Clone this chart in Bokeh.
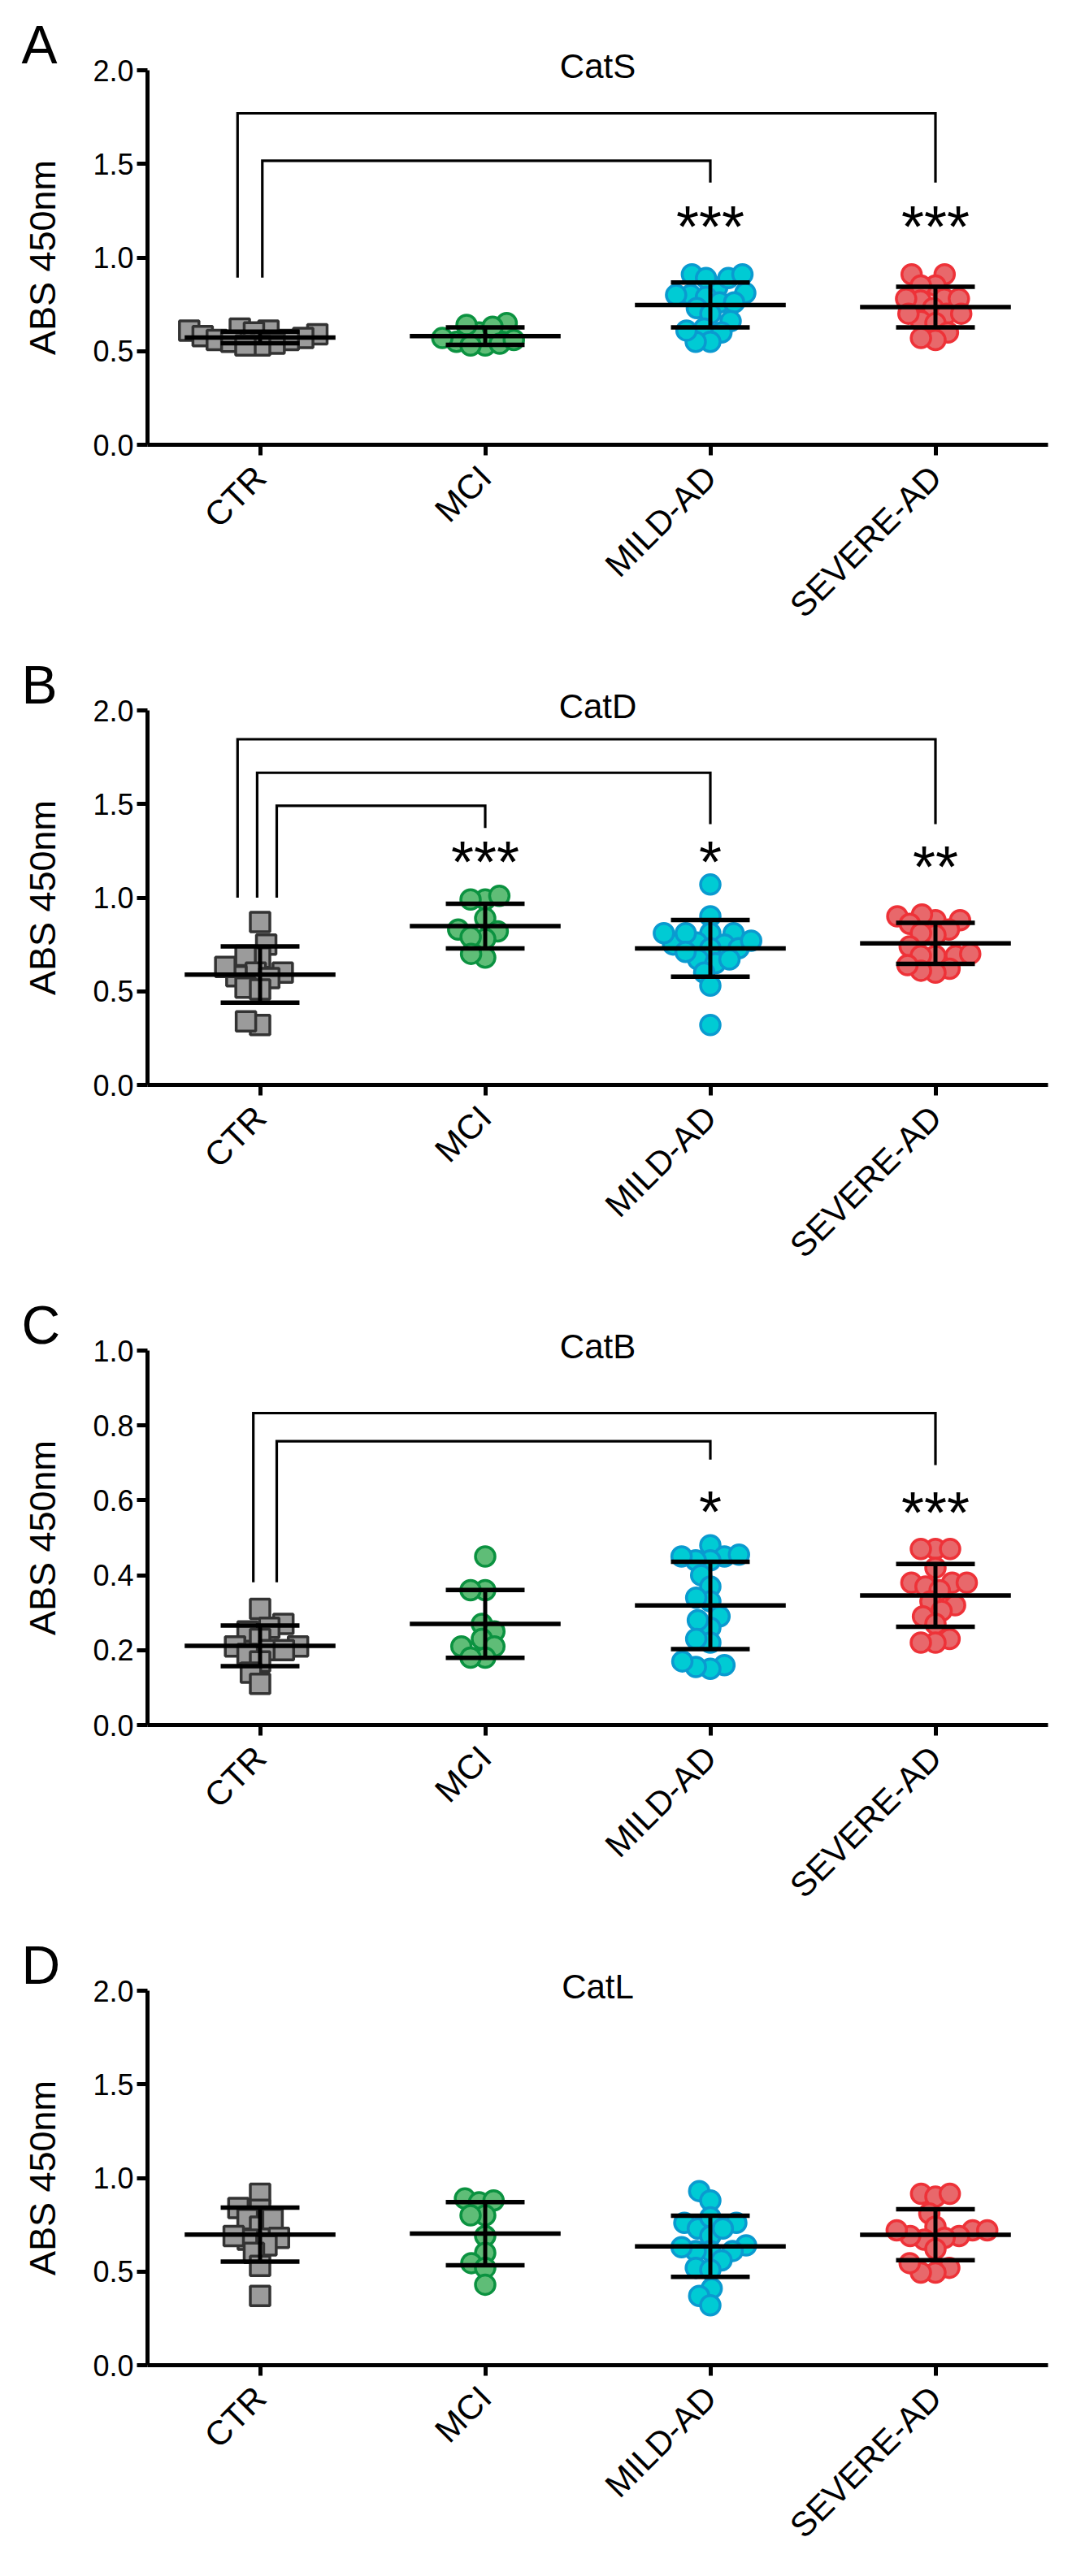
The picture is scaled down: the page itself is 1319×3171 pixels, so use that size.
import math
from bokeh.plotting import figure
from bokeh.models import FactorRange, Range1d, FixedTicker, PrintfTickFormatter, Title
from bokeh.layouts import column, row
from bokeh.embed import file_html
from bokeh.resources import INLINE
from bokeh.core.properties import value

FONT = "Liberation Sans"

# ---------------- data ----------------
categories = ["CTR", "MCI", "MILD-AD", "SEVERE-AD"]
panel_letters = ["A", "B", "C", "D"]
panel_titles = ["CatS", "CatD", "CatB", "CatL"]
y_label = "ABS 450nm"
y_max = [2.0, 2.0, 1.0, 2.0]
y_ticks = [
    [0.0, 0.5, 1.0, 1.5, 2.0],
    [0.0, 0.5, 1.0, 1.5, 2.0],
    [0.0, 0.2, 0.4, 0.6, 0.8, 1.0],
    [0.0, 0.5, 1.0, 1.5, 2.0],
]

# CatS
cats_ctr = [0.62, 0.61, 0.61, 0.60, 0.59, 0.58, 0.57, 0.56, 0.56, 0.55, 0.54, 0.53, 0.53]
cats_mci = [0.60, 0.64, 0.65, 0.63, 0.55, 0.53, 0.53, 0.54, 0.56, 0.57]
cats_mild = [0.84, 0.91, 0.89, 0.89, 0.91, 0.80, 0.79, 0.80, 0.81, 0.73, 0.76, 0.76,
             0.70, 0.66, 0.62, 0.60, 0.55, 0.55, 0.61]
cats_severe = [0.91, 0.91, 0.85, 0.85, 0.78, 0.77, 0.78, 0.78, 0.73, 0.66, 0.70, 0.70,
               0.70, 0.65, 0.60, 0.56, 0.57]
# CatD
catd_ctr = [0.87, 0.75, 0.68, 0.69, 0.60, 0.58, 0.63, 0.60, 0.57, 0.52, 0.51, 0.32, 0.34]
catd_mci = [0.99, 1.01, 0.99, 0.89, 0.83, 0.82, 0.78, 0.79, 0.68, 0.70]
catd_mild = [1.07, 0.90, 0.81, 0.81, 0.76, 0.75, 0.73, 0.73, 0.75, 0.77, 0.81, 0.81,
             0.67, 0.65, 0.67, 0.60, 0.53, 0.32, 0.71]
catd_severe = [0.88, 0.91, 0.90, 0.88, 0.86, 0.83, 0.80, 0.81, 0.74, 0.69, 0.69, 0.69,
               0.70, 0.62, 0.60, 0.61, 0.64]
# CatB
catb_ctr = [0.31, 0.27, 0.26, 0.25, 0.23, 0.21, 0.20, 0.21, 0.20, 0.19, 0.17, 0.14, 0.11]
catb_mci = [0.45, 0.36, 0.36, 0.27, 0.25, 0.23, 0.21, 0.21, 0.18, 0.18]
catb_mild = [0.48, 0.45, 0.44, 0.44, 0.455, 0.45, 0.40, 0.37, 0.33, 0.34, 0.29, 0.26,
             0.28, 0.22, 0.23, 0.16, 0.15, 0.155, 0.17]
catb_severe = [0.47, 0.47, 0.47, 0.42, 0.38, 0.38, 0.38, 0.37, 0.36, 0.33, 0.32, 0.305,
               0.29, 0.27, 0.23, 0.22, 0.22]
# CatL
catl_ctr = [0.915, 0.84, 0.83, 0.78, 0.74, 0.78, 0.67, 0.68, 0.69, 0.64, 0.60, 0.53, 0.37]
catl_mci = [0.89, 0.87, 0.88, 0.80, 0.80, 0.69, 0.60, 0.545, 0.52, 0.43]
catl_mild = [0.93, 0.88, 0.76, 0.73, 0.76, 0.79, 0.69, 0.73, 0.61, 0.61, 0.63, 0.64,
             0.61, 0.56, 0.52, 0.51, 0.41, 0.37, 0.32]
catl_severe = [0.915, 0.90, 0.915, 0.81, 0.74, 0.72, 0.69, 0.68, 0.67, 0.69, 0.72, 0.72,
               0.62, 0.52, 0.495, 0.495, 0.545]

panel_data = [
    [cats_ctr, cats_mci, cats_mild, cats_severe],
    [catd_ctr, catd_mci, catd_mild, catd_severe],
    [catb_ctr, catb_mci, catb_mild, catb_severe],
    [catl_ctr, catl_mci, catl_mild, catl_severe],
]

# significance marks (text per category) and their vertical centre (data units)
sig_text = [
    ["", "", "***", "***"],
    ["", "***", "*", "**"],
    ["", "", "*", "***"],
    ["", "", "", ""],
]
sig_y = [
    [0, 0, 1.24, 1.24],
    [0, 1.27, 1.27, 1.24],
    [0, 0, 0.608, 0.606],
    [0, 0, 0, 0],
]
# brackets: (left-leg offset from CTR, right category, top, left bottom, right bottom)
brackets = [
    [(-0.10, 3, 1.77, 0.893, 1.40), (0.01, 2, 1.517, 0.893, 1.40)],
    [(-0.10, 3, 1.846, 1.0, 1.393), (-0.013, 2, 1.667, 1.0, 1.393), (0.074, 1, 1.491, 1.0, 1.372)],
    [(-0.03, 3, 0.833, 0.381, 0.694), (0.074, 2, 0.758, 0.381, 0.709)],
    [],
]

# ---------------- style ----------------
fill_colors = ["#9b9b9b", "#5fbd77", "#00cbd4", "#e8686b"]
line_colors = ["#333333", "#0b9240", "#0a9ad0", "#ee3238"]
markers = ["square", "circle", "circle", "circle"]
MARKER_SIZE = 24
MARKER_LW = 3.5
SWARM_D = 18.0
STAR_FS = 72
STAR_RAISE = 18  # px from star centre down to baseline

LEFT_W = 91
MAIN_W = 1212
FIG_H = 788
BORDER_L = 90
BORDER_R = 14
AXIS_H = 467          # pixels from 0 to y_max (= frame height)
BORDER_B = 235
BORDER_T = FIG_H - BORDER_B - AXIS_H   # 86, shared by both figures of a row
FRAME_W = MAIN_W - BORDER_L - BORDER_R
CAT_PX = FRAME_W / len(categories)
LETTER_X = 26
YLAB_FRAME_LEFT = 77


def swarm(vals, ppu, d):
    placed = []
    offs = [0.0] * len(vals)
    order = sorted(range(len(vals)), key=lambda i: vals[i])
    for i in order:
        y = vals[i] * ppu
        cands = [0.0]
        for px, py in placed:
            dy = abs(py - y)
            if dy < d:
                dx = math.sqrt(d * d - dy * dy)
                cands += [px - dx, px + dx]
        cands.sort(key=lambda c: (round(abs(c), 6), c))
        chosen = cands[-1]
        for c in cands:
            if all((c - px) ** 2 + (y - py) ** 2 >= d * d - 1e-6 for px, py in placed):
                chosen = c
                break
        placed.append((chosen, y))
        offs[i] = chosen / CAT_PX
    return offs


def mean_sd(vals):
    m = sum(vals) / len(vals)
    sd = math.sqrt(sum((v - m) ** 2 for v in vals) / (len(vals) - 1))
    return m, sd


def set_standoff(t, v):
    try:
        t.standoff = v
    except AttributeError:
        pass


rows = []
for k in range(4):
    ymax = y_max[k]
    ppu = AXIS_H / ymax

    # left strip: y title (axis label centred on the y-axis span) and panel letter (title)
    yl = figure(width=LEFT_W, height=FIG_H, x_range=Range1d(0, 1),
                y_range=Range1d(0, 1), min_border_left=YLAB_FRAME_LEFT, min_border_right=0,
                min_border_top=BORDER_T, min_border_bottom=BORDER_B, x_axis_type=None,
                output_backend="svg", toolbar_location=None)
    yl.outline_line_color = None
    yl.ygrid.visible = False
    yl.yaxis.ticker = FixedTicker(ticks=[])
    yl.yaxis.axis_line_color = None
    yl.yaxis.major_tick_out = 0
    yl.yaxis.major_tick_in = 0
    yl.yaxis.minor_tick_out = 0
    yl.yaxis.minor_tick_in = 0
    yl.yaxis.major_label_standoff = 0
    yl.yaxis.axis_label = y_label
    yl.yaxis.axis_label_standoff = 0
    yl.yaxis.axis_label_text_font = FONT
    yl.yaxis.axis_label_text_font_size = "45px"
    yl.yaxis.axis_label_text_font_style = "normal"
    yl.yaxis.axis_label_text_color = "black"
    letter = Title(text=panel_letters[k], align="left", offset=LETTER_X - YLAB_FRAME_LEFT,
                   text_font=FONT, text_font_size="66px", text_font_style="normal",
                   text_color="black")
    set_standoff(letter, -10)
    yl.add_layout(letter, "above")

    # main plot: frame == y-axis span
    p = figure(x_range=FactorRange(factors=categories, range_padding=0),
               y_range=Range1d(0, ymax),
               width=MAIN_W, height=FIG_H,
               min_border_left=BORDER_L, min_border_right=BORDER_R,
               min_border_top=BORDER_T, min_border_bottom=BORDER_B,
               output_backend="svg", toolbar_location=None)
    p.outline_line_color = None
    p.xgrid.visible = False
    p.ygrid.visible = False
    ttl = Title(text=panel_titles[k], align="center", text_font=FONT,
                text_font_size="42px", text_font_style="normal", text_color="black")
    set_standoff(ttl, -36)
    p.add_layout(ttl, "above")

    for ax in (p.xaxis, p.yaxis):
        ax.axis_line_width = 5
        ax.axis_line_color = "black"
        ax.major_tick_line_width = 5
        ax.major_tick_line_color = "black"
        ax.major_tick_out = 13
        ax.major_tick_in = 0
        ax.minor_tick_line_color = None
        ax.major_label_text_font = FONT
        ax.major_label_text_color = "black"
    p.yaxis.ticker = FixedTicker(ticks=y_ticks[k])
    p.yaxis.formatter = PrintfTickFormatter(format="%.1f")
    p.yaxis.major_label_text_font_size = "36px"
    p.yaxis.major_label_standoff = 4
    p.xaxis.major_label_text_font_size = "42px"
    p.xaxis.major_label_orientation = math.pi / 4
    p.xaxis.major_label_standoff = 20

    # points
    for c, vals in enumerate(panel_data[k]):
        offs = swarm(vals, ppu, SWARM_D)
        xs = [c + 0.5 + o for o in offs]
        p.scatter(xs, vals, marker=markers[c], size=MARKER_SIZE,
                  fill_color=fill_colors[c], line_color=line_colors[c],
                  line_width=MARKER_LW)

    # mean +- SD
    mx0, mx1, my, cx0, cx1, cy, vx, vy0, vy1 = [], [], [], [], [], [], [], [], []
    for c, vals in enumerate(panel_data[k]):
        m, sd = mean_sd(vals)
        xc = c + 0.5
        mx0.append(xc - 0.335); mx1.append(xc + 0.335); my.append(m)
        for yy in (m - sd, m + sd):
            cx0.append(xc - 0.175); cx1.append(xc + 0.175); cy.append(yy)
        vx.append(xc); vy0.append(m - sd); vy1.append(m + sd)
    p.segment(vx, vy0, vx, vy1, line_color="black", line_width=5)
    p.segment(cx0, cy, cx1, cy, line_color="black", line_width=5.5)
    p.segment(mx0, my, mx1, my, line_color="black", line_width=5.5)

    # brackets
    bxs, bys = [], []
    for off, rc, ytop, ylb, yrb in brackets[k]:
        xl = 0.5 + off
        xr = rc + 0.5
        bxs.append([xl, xl, xr, xr])
        bys.append([ylb, ytop, ytop, yrb])
    if bxs:
        p.multi_line(bxs, bys, line_color="black", line_width=3.2, line_join="miter")

    # significance stars
    sx, sy, st = [], [], []
    for c in range(4):
        if sig_text[k][c]:
            sx.append(c + 0.5)
            sy.append(sig_y[k][c] - STAR_RAISE / ppu)
            st.append(sig_text[k][c])
    if st:
        p.text(sx, sy, text=st, text_font=value(FONT), text_font_size=value(f"{STAR_FS}px"),
               text_align="center", text_baseline="alphabetic", text_color="black")

    rows.append(row(yl, p))

layout = column(*rows)
open("out.html", "w").write(file_html(layout, INLINE))
